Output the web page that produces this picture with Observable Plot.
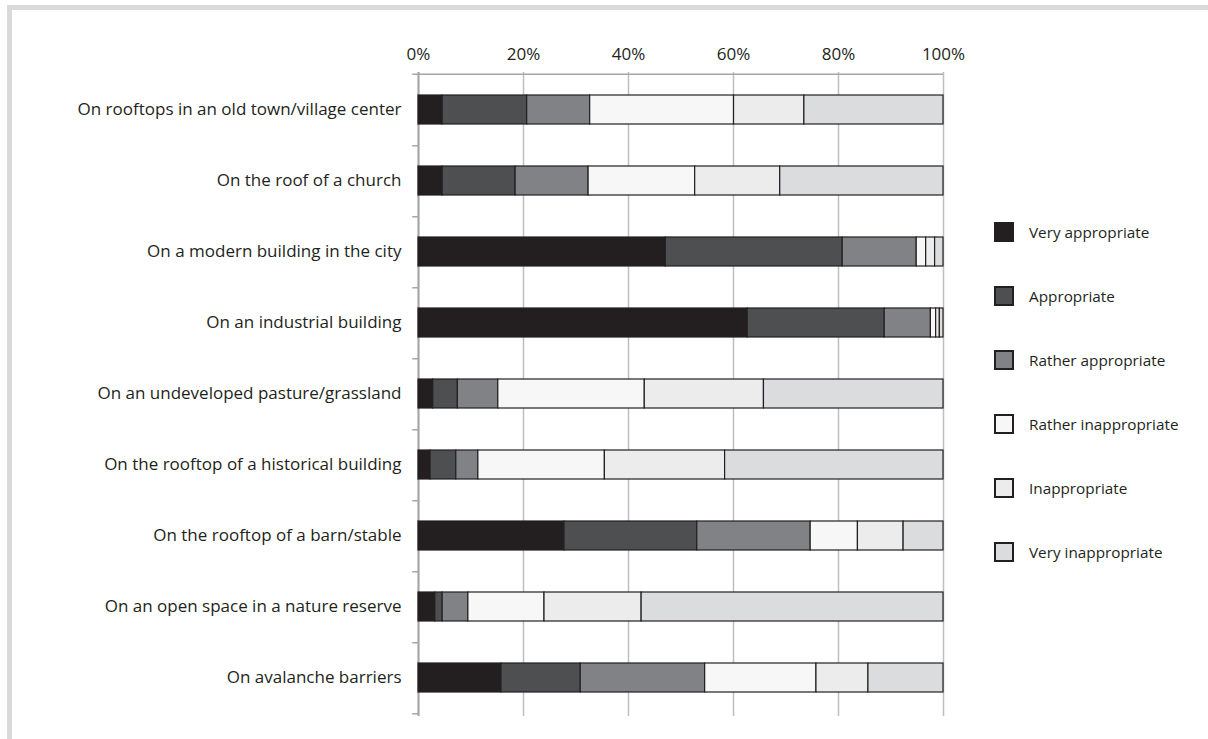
<!DOCTYPE html>
<html>
<head>
<meta charset="utf-8">
<script src="https://cdn.jsdelivr.net/npm/d3@7"></script>
<script src="https://cdn.jsdelivr.net/npm/@observablehq/plot@0.6"></script>
<style>
  html, body { margin: 0; padding: 0; background: #fff; }
  body { width: 1208px; height: 739px; overflow: hidden; position: relative; font-family: "Open Sans", sans-serif; }
  #frame { position: absolute; left: 7px; top: 5px; width: 1210px; height: 740px; border-left: 5px solid #d9d9d9; border-top: 5px solid #d9d9d9; box-sizing: border-box; }
  #chart { position: absolute; left: 0; top: 0; }
  #chart svg text { font-size: 17px !important; }
  #legend { position: absolute; left: 994px; top: 220px; }
  .item { position: absolute; left: 0; height: 24px; display: flex; align-items: center; white-space: nowrap; font-size: 15.3px; color: #231f20; }
  .sw { width: 20px; height: 20px; border: 2px solid #231f20; box-sizing: border-box; margin-right: 15px; }
</style>
</head>
<body>
<div id="frame"></div>
<div id="chart"></div>
<div id="legend"></div>
<script>
const categories = [
  "On rooftops in an old town/village center",
  "On the roof of a church",
  "On a modern building in the city",
  "On an industrial building",
  "On an undeveloped pasture/grassland",
  "On the rooftop of a historical building",
  "On the rooftop of a barn/stable",
  "On an open space in a nature reserve",
  "On avalanche barriers"
];
const responses = ["Very appropriate", "Appropriate", "Rather appropriate", "Rather inappropriate", "Inappropriate", "Very inappropriate"];
const colors = ["#231f20", "#4d4f51", "#818285", "#f7f7f7", "#ececec", "#dbdcde"];
const veryAppropriate    = [4.6, 4.6, 47.1, 62.7, 2.8, 2.3, 27.8, 3.2, 15.8];
const appropriate        = [16.1, 13.9, 33.7, 26.1, 4.7, 4.9, 25.3, 1.4, 15.1];
const ratherAppropriate  = [12.0, 13.9, 14.1, 8.8, 7.7, 4.2, 21.6, 4.9, 23.7];
const ratherInappropriate= [27.4, 20.3, 1.8, 1.0, 27.9, 24.1, 9.0, 14.5, 21.2];
const inappropriate      = [13.4, 16.2, 1.7, 0.7, 22.7, 22.9, 8.7, 18.5, 9.9];
const veryInappropriate  = [26.5, 31.1, 1.6, 0.7, 34.2, 41.6, 7.6, 57.5, 14.3];
const xTicks = [0, 20, 40, 60, 80, 100];

const series = [veryAppropriate, appropriate, ratherAppropriate, ratherInappropriate, inappropriate, veryInappropriate];
const data = [];
categories.forEach((c, i) => {
  responses.forEach((r, j) => data.push({category: c, response: r, value: series[j][i]}));
});

const W = 1208, H = 739;
const mTop = 72, mBottom = H - 716, mLeft = 418, mRight = W - 943;
const step = (716 - 72) / categories.length;

const chart = Plot.plot({
  width: W,
  height: H,
  marginTop: mTop,
  marginBottom: mBottom,
  marginLeft: mLeft,
  marginRight: mRight,
  style: {fontFamily: "'Open Sans', sans-serif", fontSize: "17px", color: "#231f20", background: "transparent", overflow: "visible"},
  x: {domain: [0, 100], axis: null, label: null},
  y: {domain: categories, paddingInner: 0.59, paddingOuter: 0.295, axis: null, label: null},
  color: {domain: responses, range: colors},
  marks: [
    Plot.ruleX(xTicks, {x: d => d, stroke: "#bfbfbf", strokeWidth: 1.5}),
    Plot.axisX(xTicks, {anchor: "top", label: null, tickSize: 0, tickPadding: 13, tickFormat: d => d + "%", fill: "#231f20"}),
    Plot.ruleY([categories[0]], {y: d => d, dy: -step / 2, x1: -1.1, x2: 100, stroke: "#a6a6a6", strokeWidth: 1.5}),
    Plot.ruleY(categories, {y: d => d, dy: step / 2, x1: -1.1, x2: 0, stroke: "#a6a6a6", strokeWidth: 1.5}),
    Plot.ruleX([0], {stroke: "#a6a6a6", strokeWidth: 2}),
    Plot.barX(data, Plot.stackX({x: "value", y: "category", fill: "response", order: responses, stroke: "#231f20", strokeWidth: 1.2})),
    Plot.axisY({anchor: "left", label: null, tickSize: 0, tickPadding: 17, fill: "#231f20"})
  ]
});
document.getElementById("chart").appendChild(chart);

const legend = document.getElementById("legend");
responses.forEach((r, j) => {
  const item = document.createElement("div");
  item.className = "item";
  item.style.top = (j * 64) + "px";
  const sw = document.createElement("div");
  sw.className = "sw";
  sw.style.background = colors[j];
  item.appendChild(sw);
  const t = document.createElement("span");
  t.textContent = r;
  item.appendChild(t);
  legend.appendChild(item);
});
</script>
</body>
</html>
